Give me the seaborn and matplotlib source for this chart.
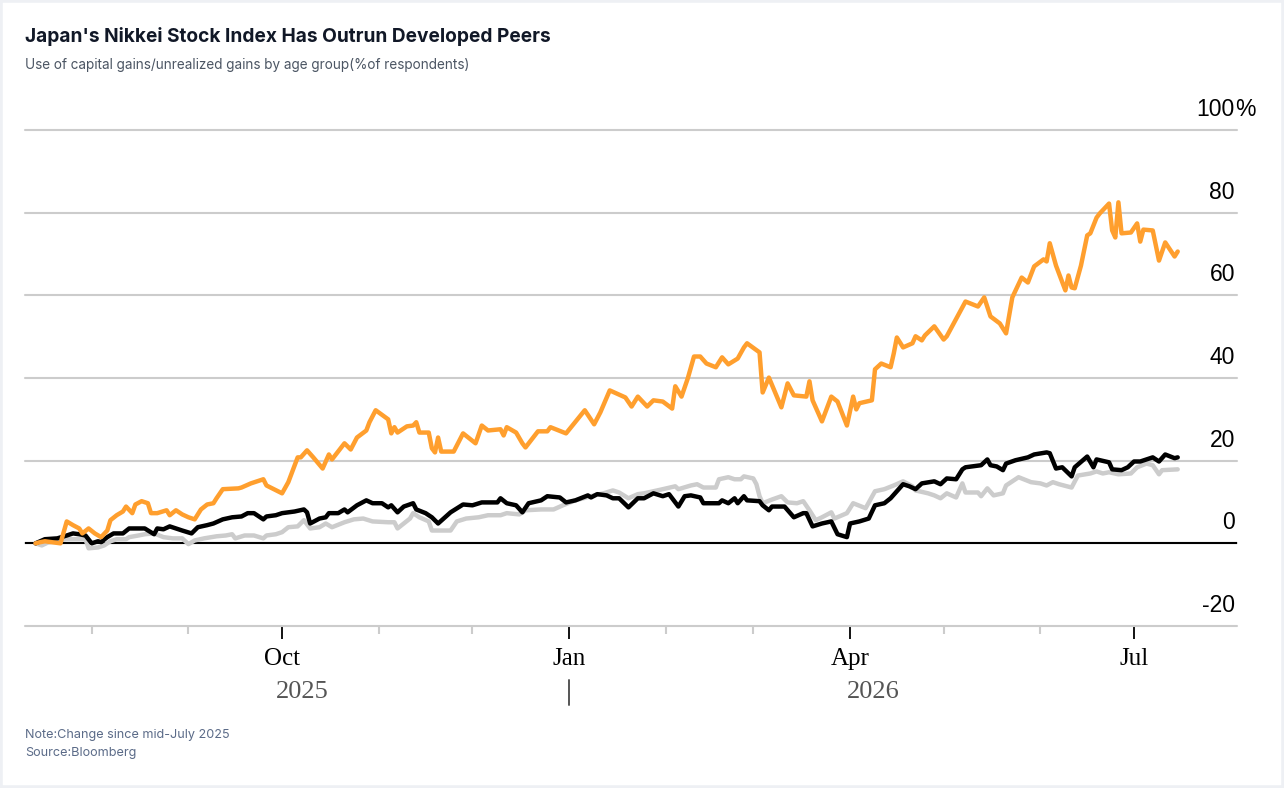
import pandas as pd
import matplotlib
matplotlib.use("Agg")
import matplotlib.pyplot as plt
from matplotlib.patches import Rectangle
import seaborn as sns

# change since mid-July 2025, %
nikkei_dates = [
    "2025-07-14", "2025-07-15", "2025-07-17", "2025-07-22", "2025-07-24", "2025-07-26", "2025-07-28", "2025-07-29", "2025-07-31",
    "2025-08-02", "2025-08-04", "2025-08-06", "2025-08-07", "2025-08-09", "2025-08-11", "2025-08-12", "2025-08-14", "2025-08-15",
    "2025-08-17", "2025-08-19", "2025-08-20", "2025-08-22", "2025-08-25", "2025-08-26", "2025-08-28", "2025-08-30",
    "2025-09-01", "2025-09-03", "2025-09-05", "2025-09-07", "2025-09-09", "2025-09-10", "2025-09-12", "2025-09-17", "2025-09-18",
    "2025-09-21", "2025-09-25", "2025-09-26",
    "2025-10-01", "2025-10-03", "2025-10-06", "2025-10-07", "2025-10-09", "2025-10-11", "2025-10-14", "2025-10-16", "2025-10-17",
    "2025-10-21", "2025-10-23", "2025-10-25", "2025-10-28", "2025-10-29", "2025-10-31",
    "2025-11-04", "2025-11-05", "2025-11-06", "2025-11-07", "2025-11-10", "2025-11-12", "2025-11-13", "2025-11-14", "2025-11-17",
    "2025-11-18", "2025-11-19", "2025-11-20", "2025-11-21", "2025-11-25", "2025-11-28",
    "2025-12-02", "2025-12-04", "2025-12-06", "2025-12-10", "2025-12-11", "2025-12-12", "2025-12-15", "2025-12-17", "2025-12-18",
    "2025-12-22", "2025-12-25", "2025-12-26", "2025-12-31",
    "2026-01-06", "2026-01-09", "2026-01-11", "2026-01-14", "2026-01-19", "2026-01-21", "2026-01-23", "2026-01-26", "2026-01-28",
    "2026-01-31",
    "2026-02-03", "2026-02-04", "2026-02-06", "2026-02-08", "2026-02-10", "2026-02-12", "2026-02-14", "2026-02-17", "2026-02-19",
    "2026-02-21", "2026-02-24", "2026-02-26", "2026-02-27",
    "2026-03-03", "2026-03-04", "2026-03-06", "2026-03-10", "2026-03-12", "2026-03-14", "2026-03-18", "2026-03-19", "2026-03-20",
    "2026-03-23", "2026-03-26", "2026-03-28", "2026-03-31",
    "2026-04-02", "2026-04-03", "2026-04-04", "2026-04-08", "2026-04-09", "2026-04-11", "2026-04-14", "2026-04-15", "2026-04-16",
    "2026-04-18", "2026-04-21", "2026-04-22", "2026-04-24", "2026-04-25", "2026-04-28",
    "2026-05-01", "2026-05-02", "2026-05-08", "2026-05-12", "2026-05-14", "2026-05-16", "2026-05-19", "2026-05-21", "2026-05-23",
    "2026-05-26", "2026-05-28", "2026-05-30",
    "2026-06-02", "2026-06-03", "2026-06-04", "2026-06-06", "2026-06-09", "2026-06-10", "2026-06-11", "2026-06-12", "2026-06-14",
    "2026-06-16", "2026-06-17", "2026-06-19", "2026-06-20", "2026-06-23", "2026-06-24", "2026-06-25", "2026-06-26", "2026-06-27",
    "2026-06-30",
    "2026-07-02", "2026-07-03", "2026-07-04", "2026-07-07", "2026-07-09", "2026-07-11", "2026-07-14", "2026-07-15",
]
nikkei_vals = [
    0, 0.2, 0.5, 0, 5.3, 4.4, 3.6, 2.4, 3.6,
    2.4, 1.5, 3.1, 5.6, 6.8, 7.7, 8.9, 7.3, 9.4,
    10.2, 9.7, 7.3, 7.3, 8.0, 6.8, 8.0, 7.0,
    6.3, 5.8, 8.2, 9.4, 9.7, 10.9, 13.1, 13.3, 13.5,
    14.5, 15.5, 14.0,
    12.1, 14.8, 20.8, 20.8, 22.5, 20.8, 18.1, 21.5, 20.3,
    24.2, 22.7, 25.6, 27.3, 29.3, 32.2,
    30.0, 26.6, 28.1, 26.8, 28.3, 28.5, 29.3, 26.8, 26.8,
    23.0, 22.0, 25.6, 22.2, 22.2, 26.6,
    24.2, 28.5, 27.3, 27.6, 26.1, 28.1, 26.8, 24.2, 23.2,
    27.1, 27.1, 28.1, 26.6,
    32.2, 28.8, 31.7, 37.0, 35.3, 33.1, 35.5, 33.1, 34.6,
    34.3,
    32.6, 38.0, 35.5, 39.9, 45.2, 45.2, 43.5, 42.6, 45.0,
    43.3, 44.7, 47.4, 48.4,
    46.2, 36.5, 40.1, 32.9, 38.7, 35.8, 35.5, 39.2, 34.6,
    29.5, 35.5, 34.3, 28.5,
    35.5, 32.4, 33.9, 34.6, 42.1, 43.5, 42.6, 45.9, 49.8,
    47.4, 48.4, 50.1, 49.1, 50.3, 52.5,
    49.3, 50.1, 58.5, 57.3, 59.5, 54.9, 53.2, 50.8, 59.5,
    64.3, 63.1, 67.0,
    68.7, 68.2, 72.6, 67.2, 61.2, 64.8, 61.9, 61.7, 67.2,
    74.5, 75.0, 78.8, 79.8, 82.2, 75.7, 74.0, 82.5, 75.0,
    75.2,
    77.4, 73.0, 75.9, 75.7, 68.4, 72.8, 69.4, 70.6,
]

peer1_dates = [
    "2025-07-14", "2025-07-17", "2025-07-21", "2025-07-24", "2025-07-26", "2025-07-28", "2025-07-30",
    "2025-08-01", "2025-08-03", "2025-08-04", "2025-08-06", "2025-08-08", "2025-08-11", "2025-08-13", "2025-08-16",
    "2025-08-18", "2025-08-21", "2025-08-22", "2025-08-24", "2025-08-26", "2025-08-28", "2025-08-30",
    "2025-09-02", "2025-09-04", "2025-09-07", "2025-09-09", "2025-09-12", "2025-09-15", "2025-09-18", "2025-09-20",
    "2025-09-22", "2025-09-25", "2025-09-26", "2025-09-29",
    "2025-10-01", "2025-10-05", "2025-10-08", "2025-10-09", "2025-10-10", "2025-10-13", "2025-10-15", "2025-10-16",
    "2025-10-19", "2025-10-21", "2025-10-22", "2025-10-25", "2025-10-28", "2025-10-30",
    "2025-11-02", "2025-11-04", "2025-11-05", "2025-11-07", "2025-11-09", "2025-11-12", "2025-11-13", "2025-11-16",
    "2025-11-18", "2025-11-20", "2025-11-24", "2025-11-28",
    "2025-12-01", "2025-12-04", "2025-12-09", "2025-12-10", "2025-12-12", "2025-12-15", "2025-12-17", "2025-12-19",
    "2025-12-23", "2025-12-25", "2025-12-29", "2025-12-31",
    "2026-01-03", "2026-01-07", "2026-01-08", "2026-01-10", "2026-01-13", "2026-01-15", "2026-01-17", "2026-01-20",
    "2026-01-23", "2026-01-25", "2026-01-28", "2026-01-31",
    "2026-02-02", "2026-02-05", "2026-02-07", "2026-02-09", "2026-02-12", "2026-02-13", "2026-02-18", "2026-02-19",
    "2026-02-21", "2026-02-23", "2026-02-24", "2026-02-26", "2026-02-27",
    "2026-03-03", "2026-03-04", "2026-03-06", "2026-03-07", "2026-03-11", "2026-03-14", "2026-03-17", "2026-03-18",
    "2026-03-20", "2026-03-23", "2026-03-26", "2026-03-28", "2026-03-31",
    "2026-04-01", "2026-04-04", "2026-04-07", "2026-04-09", "2026-04-12", "2026-04-14", "2026-04-18", "2026-04-20",
    "2026-04-22", "2026-04-24", "2026-04-28", "2026-04-30",
    "2026-05-02", "2026-05-05", "2026-05-07", "2026-05-08", "2026-05-13", "2026-05-15", "2026-05-16", "2026-05-18",
    "2026-05-20", "2026-05-21", "2026-05-24", "2026-05-28", "2026-05-30",
    "2026-06-03", "2026-06-04", "2026-06-06", "2026-06-08", "2026-06-11", "2026-06-12", "2026-06-16", "2026-06-18",
    "2026-06-19", "2026-06-23", "2026-06-24", "2026-06-27", "2026-06-29",
    "2026-07-01", "2026-07-03", "2026-07-07", "2026-07-09", "2026-07-11", "2026-07-14", "2026-07-15",
]
peer1_vals = [
    0, 1.0, 1.2, 1.9, 2.4, 2.2, 1.9,
    0, 0.5, 0.3, 1.5, 2.4, 2.4, 3.6, 3.6,
    3.6, 2.2, 3.6, 3.4, 4.1, 3.6, 3.1,
    2.4, 3.9, 4.4, 4.8, 5.8, 6.3, 6.5, 7.3,
    7.3, 5.8, 6.5, 6.8,
    7.3, 7.7, 8.2, 7.5, 4.8, 6.0, 6.3, 7.3,
    7.3, 8.2, 7.5, 9.2, 10.4, 9.7,
    9.7, 8.7, 9.2, 7.5, 8.9, 9.7, 8.2, 7.3,
    6.3, 4.8, 7.5, 9.4,
    9.2, 9.9, 9.9, 10.9, 9.7, 9.2, 7.5, 9.7,
    10.4, 11.4, 11.1, 9.9,
    10.4, 11.6, 11.1, 11.9, 11.6, 10.9, 10.9, 8.7,
    10.9, 10.9, 12.1, 11.4,
    11.9, 8.9, 11.4, 11.6, 11.1, 9.7, 9.7, 10.4,
    9.7, 10.9, 9.7, 11.4, 10.4,
    10.2, 9.2, 8.0, 8.9, 8.9, 6.3, 7.3, 7.3,
    4.1, 4.8, 5.3, 2.2, 1.5,
    4.8, 5.3, 6.0, 9.2, 9.7, 10.9, 14.3, 13.8,
    13.1, 14.5, 15.0, 14.3,
    15.7, 15.5, 17.9, 18.4, 18.9, 20.3, 18.9, 18.6,
    17.7, 19.3, 20.1, 20.8, 21.5,
    22.0, 21.8, 18.1, 18.4, 16.2, 18.4, 21.0, 18.4,
    20.3, 19.6, 17.9, 17.7, 18.4,
    19.8, 19.8, 20.8, 19.8, 21.5, 20.6, 20.8,
]

peer2_dates = [
    "2025-07-14", "2025-07-16", "2025-07-18", "2025-07-21", "2025-07-24", "2025-07-28", "2025-07-30", "2025-07-31",
    "2025-08-03", "2025-08-05", "2025-08-07", "2025-08-09", "2025-08-12", "2025-08-13", "2025-08-16", "2025-08-18",
    "2025-08-21", "2025-08-24", "2025-08-27", "2025-08-30",
    "2025-09-01", "2025-09-03", "2025-09-06", "2025-09-10", "2025-09-13", "2025-09-15", "2025-09-16", "2025-09-19",
    "2025-09-22", "2025-09-25", "2025-09-26", "2025-09-29",
    "2025-10-01", "2025-10-03", "2025-10-06", "2025-10-08", "2025-10-10", "2025-10-13", "2025-10-15", "2025-10-17",
    "2025-10-21", "2025-10-24", "2025-10-27", "2025-10-30",
    "2025-11-04", "2025-11-06", "2025-11-07", "2025-11-09", "2025-11-11", "2025-11-12", "2025-11-14", "2025-11-17",
    "2025-11-18", "2025-11-22", "2025-11-24", "2025-11-26", "2025-11-29",
    "2025-12-03", "2025-12-06", "2025-12-10", "2025-12-12", "2025-12-16", "2025-12-18", "2025-12-23", "2025-12-27",
    "2025-12-30",
    "2026-01-03", "2026-01-09", "2026-01-12", "2026-01-15", "2026-01-17", "2026-01-20", "2026-01-23", "2026-01-25",
    "2026-01-28", "2026-01-31",
    "2026-02-04", "2026-02-05", "2026-02-09", "2026-02-11", "2026-02-13", "2026-02-17", "2026-02-18", "2026-02-21",
    "2026-02-23", "2026-02-25", "2026-02-26",
    "2026-03-01", "2026-03-02", "2026-03-03", "2026-03-04", "2026-03-07", "2026-03-10", "2026-03-12", "2026-03-15",
    "2026-03-17", "2026-03-19", "2026-03-21", "2026-03-23", "2026-03-26", "2026-03-27", "2026-03-31",
    "2026-04-02", "2026-04-06", "2026-04-09", "2026-04-12", "2026-04-15", "2026-04-18", "2026-04-21", "2026-04-22",
    "2026-04-26", "2026-04-28", "2026-04-30",
    "2026-05-02", "2026-05-05", "2026-05-07", "2026-05-08", "2026-05-12", "2026-05-13", "2026-05-15", "2026-05-17",
    "2026-05-20", "2026-05-21", "2026-05-25", "2026-05-29",
    "2026-06-01", "2026-06-03", "2026-06-05", "2026-06-07", "2026-06-11", "2026-06-13", "2026-06-17", "2026-06-19",
    "2026-06-21", "2026-06-23", "2026-06-26", "2026-06-30",
    "2026-07-02", "2026-07-05", "2026-07-07", "2026-07-09", "2026-07-10", "2026-07-15",
]
peer2_vals = [
    0, -0.5, 0.2, 0.7, 1.0, 1.0, 1.0, -1.2,
    -1.0, -0.5, 0.5, 1.0, 1.0, 1.5, 1.9, 2.2,
    2.4, 1.5, 1.2, 1.2,
    -0.2, 0.7, 1.2, 1.7, 1.9, 2.2, 1.2, 1.9,
    1.9, 1.2, 1.9, 2.2,
    2.7, 3.9, 4.1, 5.6, 3.6, 3.9, 4.8, 3.9,
    5.1, 5.8, 6.0, 5.3,
    5.1, 5.1, 3.6, 4.8, 6.0, 7.3, 6.3, 5.3,
    3.1, 3.1, 3.1, 5.3, 6.0,
    6.3, 6.8, 6.8, 7.3, 7.0, 8.0, 8.2, 8.2,
    9.2,
    10.4, 11.6, 12.1, 12.8, 12.3, 10.9, 11.9, 12.1,
    12.6, 13.1,
    13.8, 13.1, 14.0, 14.3, 13.5, 13.5, 15.5, 16.0,
    15.5, 15.5, 16.2,
    15.7, 14.3, 11.4, 9.7, 10.6, 11.4, 9.9, 9.7,
    10.2, 8.0, 5.6, 6.3, 7.5, 6.0, 7.3,
    9.7, 8.5, 12.6, 13.1, 14.0, 15.0, 13.8, 12.8,
    12.1, 11.6, 10.9,
    12.1, 11.1, 14.5, 12.3, 12.3, 11.4, 13.3, 11.6,
    12.1, 14.0, 16.0, 14.8,
    14.5, 14.0, 14.8, 14.3, 13.5, 16.4, 16.9, 17.4,
    16.9, 17.2, 16.7, 16.9,
    18.4, 19.3, 18.9, 16.7, 17.7, 17.9,
]

series_names = ["Developed peer 2", "Developed peer 1", "Nikkei 225"]
series_colors = ["#cccccc", "#000000", "#ff9f2e"]
y_ticks = [-20, 0, 20, 40, 60, 80, 100]

frames = []
for name, d, v in zip(series_names,
                      [peer2_dates, peer1_dates, nikkei_dates],
                      [peer2_vals, peer1_vals, nikkei_vals]):
    frames.append(pd.DataFrame({"date": pd.to_datetime(d), "change": v, "series": name}))
df = pd.concat(frames, ignore_index=True)

sns.set_style("white")
plt.rcParams["text.color"] = "black"
plt.rcParams["xtick.color"] = "black"
plt.rcParams["xtick.labelcolor"] = "black"

fig = plt.figure(figsize=(12.84, 7.88), dpi=100)
fig.patch.set_facecolor("white")
fig.patches.append(Rectangle((0, 0), 1, 1, transform=fig.transFigure, fill=False,
                             edgecolor="#eef0f4", linewidth=4))

W, H = 1284, 788
ax = fig.add_axes([25 / W, 1 - 626 / H, (1237 - 25) / W, (626 - 130) / H])

sns.lineplot(data=df, x="date", y="change", hue="series", hue_order=series_names,
             palette=series_colors, linewidth=3.2, legend=False, ax=ax)

ax.set_xlim(pd.Timestamp("2025-07-10 15:00"), pd.Timestamp("2026-08-03"))
ax.set_ylim(-20, 100)
ax.set_xlabel("")
ax.set_ylabel("")
for s in ax.spines.values():
    s.set_visible(False)

# horizontal grid, y labels sit above the lines on the right
ax.set_yticks(y_ticks)
ax.yaxis.grid(True, color="#cccccc", linewidth=1.5)
ax.tick_params(axis="y", left=False, right=False, labelleft=False)
for gl in ax.get_ygridlines():
    gl.set_clip_on(False)
ax.axhline(0, color="black", linewidth=1.5, zorder=1.5)
ytr = ax.get_yaxis_transform()
for v in y_ticks:
    ax.annotate(str(v), xy=(1, v), xycoords=ytr, xytext=(-1.5, 10), textcoords="offset points",
                ha="right", va="baseline", fontsize=16.5, family="Liberation Sans", color="black")
ax.annotate("%", xy=(1, 100), xycoords=ytr, xytext=(-1.5, 10), textcoords="offset points",
            ha="left", va="baseline", fontsize=16.5, family="Liberation Sans", color="black")

# month ticks: quarters labelled, other months minor
months = pd.date_range("2025-08-01", "2026-07-01", freq="MS")
major = [m for m in months if m.month in (1, 4, 7, 10)]
minor = [m for m in months if m.month not in (1, 4, 7, 10)]
ax.set_xticks(major, labels=[m.strftime("%b") for m in major],
              fontsize=18, family="Liberation Serif", color="black")
ax.set_xticks(minor, minor=True)
ax.tick_params(axis="x", which="major", bottom=True, length=9.5, width=1.3, color="black", pad=6)
ax.tick_params(axis="x", which="minor", bottom=True, length=5.5, width=1.5, color="#cccccc")

# year labels centred over each year's data, with a divider at the new year
xtr = ax.get_xaxis_transform()
first_day = df["date"].min()
last_day = df["date"].max()
new_year = pd.Timestamp("2026-01-01")
ax.text(first_day + (new_year - first_day) / 2, -0.134, "2025", transform=xtr, ha="center",
        va="center", fontsize=19, color="#555555", family="Liberation Serif")
ax.text(new_year + (last_day - new_year) / 2, -0.134, "2026", transform=xtr, ha="center",
        va="center", fontsize=19, color="#555555", family="Liberation Serif")
ax.plot([new_year, new_year], [-0.109, -0.16], transform=xtr, color="#555555",
        linewidth=1.4, clip_on=False)

fig.text(25 / W, 1 - 37 / H, "Japan's Nikkei Stock Index Has Outrun Developed Peers",
         fontsize=13.75, fontweight="bold", family="Inter", color="#111827", va="center")
fig.text(25 / W, 1 - 65 / H, "Use of capital gains/unrealized gains by age group(%of respondents)",
         fontsize=9.75, family="Inter", color="#4b5563", va="center")
fig.text(25 / W, 1 - 735 / H, "Note:Change since mid-July 2025",
         fontsize=9.1, family="Inter", color="#5b6b88", va="center")
fig.text(25 / W, 1 - 753 / H, "Source:Bloomberg",
         fontsize=9.1, family="Inter", color="#5b6b88", va="center")

fig.savefig("out.png", dpi=100)
